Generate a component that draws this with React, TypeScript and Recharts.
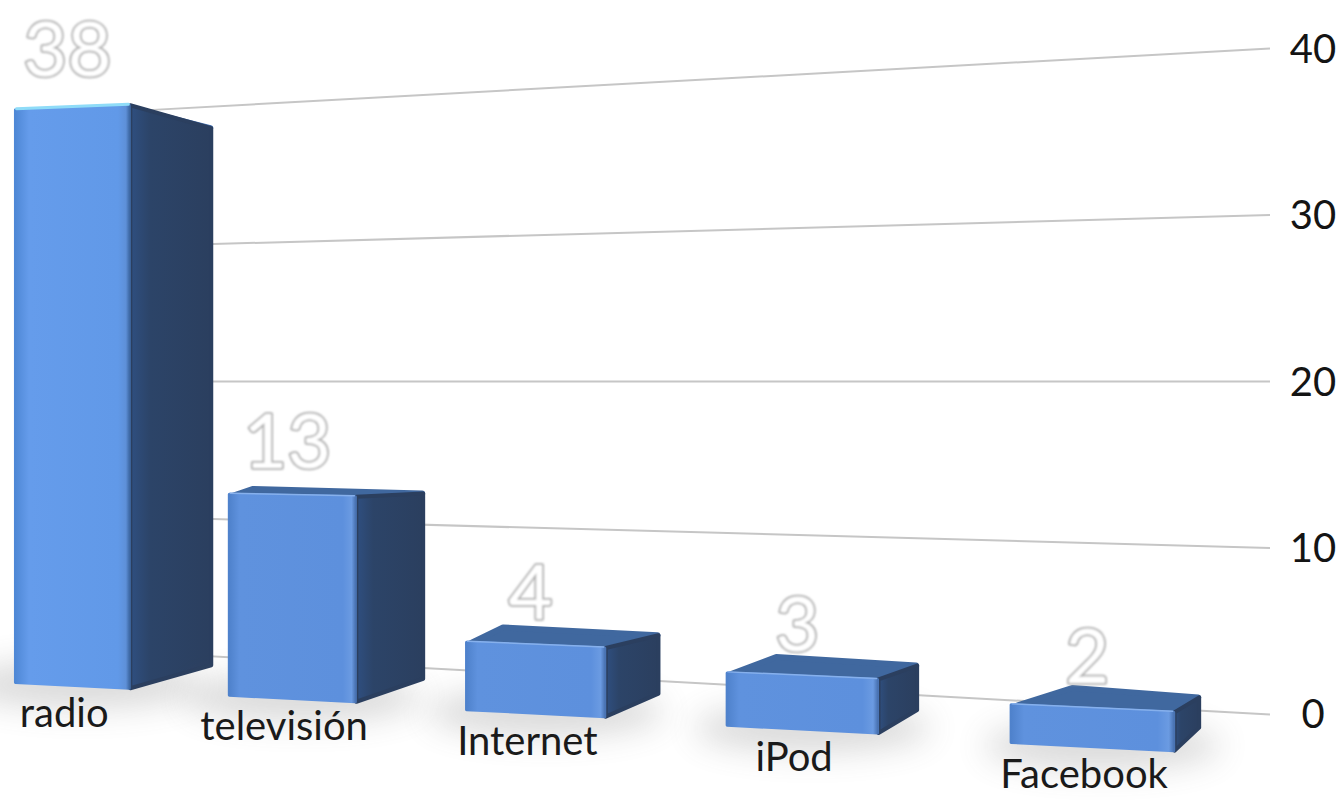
import React from "react";
import { BarChart, Bar, XAxis, YAxis, CartesianGrid, LabelList } from "recharts";

const categories = ["radio", "televisión", "Internet", "iPod", "Facebook"];
const values = [38, 13, 4, 3, 2];
const yTicks = [0, 10, 20, 30, 40];
const data = categories.map((name, i) => ({ name, value: values[i] }));

const FONT = "Lato, 'Open Sans', sans-serif";
const UNIT = (714 - 49) / 40;

// Perspective of the slide's 3D scene, applied to what the library's scales give.
const screenCenter = (X: number) => 16 + 0.752 * X + 0.000184 * X * X;
const wallY = (y: number, x: number) => y + (1260 - x) * ((714 - y) / UNIT - 20) * 0.00275;

function project(X: number, W0: number, h: number) {
  const c = screenCenter(X);
  const W = W0 * (1.014 - 0.000039 * X);
  const side = 90 - 0.056 * X;
  const left = c - W / 2;
  const right = c + W / 2;
  const frontRight = right - side;
  const fw = frontRight - left;
  const cx = (left + frontRight) / 2;
  const floor = 682 + 0.06 * cx;
  const top = floor - (10 + 0.902 * h);
  const tilt = 0.05 - h * 0.00014;
  const topL = top - (tilt * fw) / 2;
  const topR = top + (tilt * fw) / 2;
  const botL = floor - 0.025 * fw;
  const botR = floor + 0.025 * fw;
  const dy = -19 + h * 0.063;
  const backShift = 0.05 * X;
  return { left, right, frontRight, cx, floor, top, topL, topR, botL, botR, dy, backShift };
}

const pts = (a: number[][]) => a.map((p) => p.join(",")).join(" ");

function Bar3D(props: any) {
  const { x, width, height, index } = props;
  const g = project(x + width / 2, width, height);
  const frontFill = index === 0 ? "url(#frontTall)" : "url(#front)";
  const topColor = index === 0 ? "#3f6db0" : "#40689f";
  const r = 6;
  return (
    <g>
      <ellipse cx={g.cx + 10} cy={g.floor - 2} rx={width * 0.6} ry={24} fill="#666" opacity={0.24} filter="url(#soft)" />
      <polygon
        points={pts([
          [g.left + r / 2, g.topL + r / 2],
          [g.frontRight - r / 2, g.topR + r / 2],
          [g.right - r / 2, g.topR + g.dy + r / 2],
          [g.left + g.backShift + 6, g.topL + g.dy + r / 2 - 2],
        ])}
        fill={topColor}
        stroke={topColor}
        strokeWidth={r}
        strokeLinejoin="round"
      />
      <polygon
        points={pts([
          [g.frontRight, g.topR + 1],
          [g.right - 2, g.topR + g.dy + 3],
          [g.right - 2, g.botR - 24],
          [g.frontRight, g.botR - 1],
        ])}
        fill="url(#side)"
        stroke="#2b3f5f"
        strokeWidth={4}
        strokeLinejoin="round"
      />
      <polygon
        points={pts([
          [g.left + 1, g.topL + 1],
          [g.frontRight - 1, g.topR + 1],
          [g.frontRight - 1, g.botR - 1],
          [g.left + 1, g.botL - 1],
        ])}
        fill={frontFill}
        stroke={frontFill}
        strokeWidth={3}
        strokeLinejoin="round"
      />
      <line
        x1={g.left + 2}
        y1={g.topL}
        x2={g.frontRight - 2}
        y2={g.topR}
        stroke={index === 0 ? "#8fdcf8" : "#86b0ec"}
        strokeWidth={index === 0 ? 3 : 1.5}
        strokeLinecap="round"
      />
    </g>
  );
}

function ValueLabel(props: any) {
  const { x, width, height, value } = props;
  const g = project(x + width / 2, width, height);
  return (
    <text
      x={g.cx - 5}
      y={g.top - 24 - height * 0.01}
      textAnchor="middle"
      fontFamily={FONT}
      fontWeight={400}
      fontSize={76}
      fill="#ffffff"
      stroke="#adadad"
      strokeWidth={3.6}
      paintOrder="stroke"
      strokeLinejoin="round"
      filter="url(#glow)"
    >
      {value}
    </text>
  );
}

function CategoryTick(props: any) {
  const { payload } = props;
  const g = project(payload.coordinate, 196, 0);
  const tx = g.cx - 8;
  return (
    <text x={tx} y={727 + 0.06 * (tx - 65)} textAnchor="middle" fontFamily={FONT} fontSize={40} fill="#1a1a1a">
      {payload.value}
    </text>
  );
}

function GridLine(props: any) {
  const { y1 } = props;
  const a = 135;
  const b = 1270;
  return <line x1={a} y1={wallY(y1, a)} x2={b} y2={wallY(y1, b)} stroke="#c6c6c6" strokeWidth={2} />;
}

export default function App() {
  return (
    <div style={{ position: "absolute", left: 0, top: 0, width: 1343, height: 800, background: "#fff" }}>
      <BarChart
        width={1343}
        height={800}
        data={data}
        margin={{ top: 49, right: 0, bottom: 0, left: 0 }}
        barCategoryGap="11%"
      >
        <defs>
          <linearGradient id="front" x1="0" y1="0" x2="1" y2="0">
            <stop offset="0" stopColor="#4f82cc" />
            <stop offset="0.08" stopColor="#5f92de" />
            <stop offset="0.9" stopColor="#5d90dd" />
            <stop offset="0.97" stopColor="#6b9be2" />
            <stop offset="1" stopColor="#4a74b4" />
          </linearGradient>
          <linearGradient id="frontTall" x1="0" y1="0" x2="1" y2="0">
            <stop offset="0" stopColor="#4f88d6" />
            <stop offset="0.12" stopColor="#659ceb" />
            <stop offset="0.9" stopColor="#6199e8" />
            <stop offset="0.97" stopColor="#5e90d8" />
            <stop offset="1" stopColor="#3f6aa6" />
          </linearGradient>
          <linearGradient id="side" x1="0" y1="0" x2="1" y2="0">
            <stop offset="0" stopColor="#2f4f80" />
            <stop offset="0.25" stopColor="#2c4468" />
            <stop offset="1" stopColor="#2b3f5f" />
          </linearGradient>
          <filter id="soft" x="-50%" y="-150%" width="200%" height="400%">
            <feGaussianBlur stdDeviation="16" />
          </filter>
          <filter id="glow" x="-10%" y="-10%" width="120%" height="120%">
            <feGaussianBlur stdDeviation="0.8" />
          </filter>
        </defs>
        <CartesianGrid vertical={false} horizontal={GridLine as any} />
        <XAxis dataKey="name" height={86} axisLine={false} tickLine={false} tick={CategoryTick as any} interval={0} />
        <YAxis
          orientation="right"
          width={83}
          domain={[0, 40]}
          ticks={yTicks}
          axisLine={false}
          tickLine={false}
          tickMargin={47}
          tick={{ fontFamily: FONT, fontSize: 40, fill: "#141414", textAnchor: "middle" }}
        />
        <Bar dataKey="value" isAnimationActive={false} shape={Bar3D as any}>
          <LabelList dataKey="value" content={ValueLabel as any} />
        </Bar>
      </BarChart>
    </div>
  );
}
